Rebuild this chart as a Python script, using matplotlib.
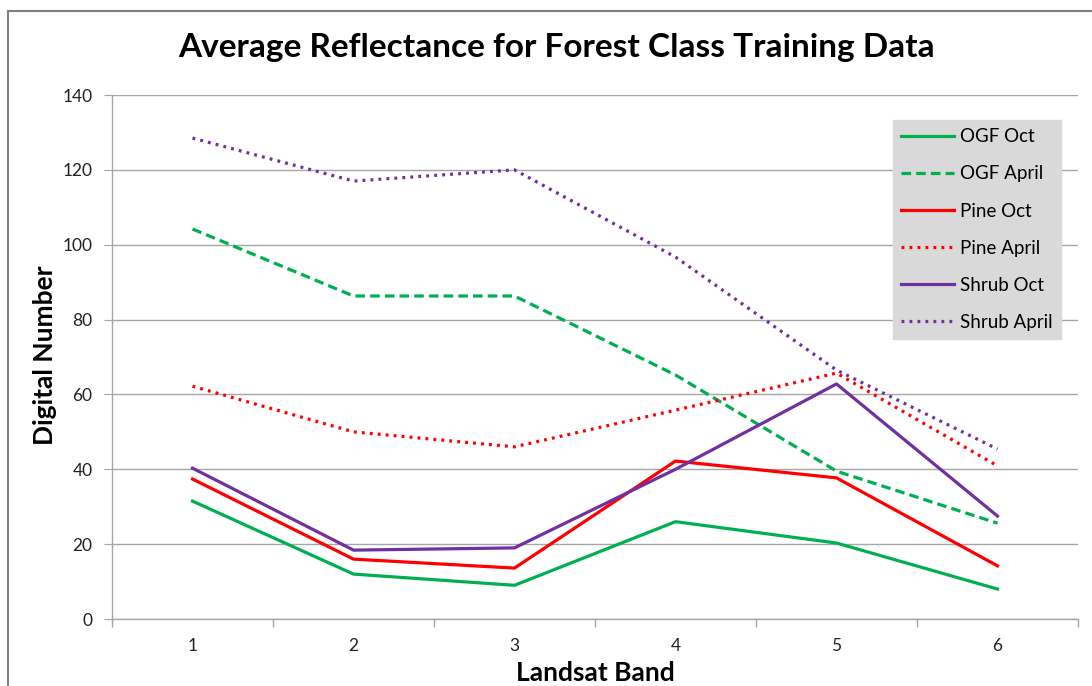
import numpy as np
import matplotlib.pyplot as plt
from matplotlib.patches import Rectangle

plt.rcParams['font.family'] = ['Lato', 'DejaVu Sans']

bands = [1, 2, 3, 4, 5, 6]
ogf_oct = [31.5, 12.0, 9.0, 26.0, 20.3, 8.0]
ogf_april = [104.2, 86.3, 86.3, 65.2, 39.5, 25.6]
pine_oct = [37.4, 16.0, 13.6, 42.2, 37.7, 14.2]
pine_april = [62.2, 50.0, 46.0, 55.8, 65.7, 40.9]
shrub_oct = [40.3, 18.4, 19.0, 40.0, 62.8, 27.5]
shrub_april = [128.5, 117.0, 120.0, 96.7, 66.5, 45.4]

green = '#00b050'
red = '#ff0000'
purple = '#7030a0'
grid_col = '#a6a6a6'

fig = plt.figure(figsize=(10.92, 6.86), dpi=100)
ax = fig.add_axes([112 / 1092, 67 / 686, 966 / 1092, 524 / 686])

# outer chart border
fig.patches.append(Rectangle((8 / 1092, -0.05), 1.1, (686 - 11) / 686 + 0.05,
                             transform=fig.transFigure, fill=False,
                             edgecolor='#808080', linewidth=1.5))

lw = 2.3
ax.plot(bands, ogf_oct, color=green, lw=lw, label='OGF Oct')
ax.plot(bands, ogf_april, color=green, lw=lw, ls=(0, (3, 1.6)), label='OGF April')
ax.plot(bands, pine_oct, color=red, lw=lw, label='Pine Oct')
ax.plot(bands, pine_april, color=red, lw=lw, ls=(0, (0.9, 1.6)), label='Pine April')
ax.plot(bands, shrub_oct, color=purple, lw=lw, label='Shrub Oct')
ax.plot(bands, shrub_april, color=purple, lw=lw, ls=(0, (0.9, 1.6)), label='Shrub April')

ax.set_xlim(0.5, 6.5)
ax.set_ylim(0, 140)
ax.set_yticks(np.arange(0, 141, 20))
ax.set_xticks(bands)
ax.set_xticks(np.arange(0.5, 6.6, 1), minor=True)
ax.tick_params(axis='x', which='major', length=0, labelsize=12.5, pad=14, colors='#222222')
ax.tick_params(axis='x', which='minor', length=6, direction='out', color=grid_col, width=1)
ax.tick_params(axis='y', length=6, direction='out', color=grid_col, labelsize=12.5, pad=8,
               colors='#222222')
ax.tick_params(axis='y', color=grid_col)
ax.yaxis.grid(True, color=grid_col, lw=1)
ax.set_axisbelow(True)
for s in ['top', 'right']:
    ax.spines[s].set_visible(False)
for s in ['left', 'bottom']:
    ax.spines[s].set_color(grid_col)
    ax.spines[s].set_linewidth(1)

ax.set_xlabel('Landsat Band', fontsize=19, fontweight='bold', va='center')
ax.xaxis.set_label_coords(0.5, (619 - 673) / 524)
ax.set_ylabel('Digital Number', fontsize=19, fontweight='bold', va='center')
ax.yaxis.set_label_coords((45 - 112) / 966, (619 - 355) / 524)
fig.text(557 / 1092, 1 - 48 / 686, 'Average Reflectance for Forest Class Training Data',
         ha='center', va='center', fontsize=24, fontweight='bold')

leg = ax.legend(loc='upper left', bbox_to_anchor=(893 / 1092, 1 - 120 / 686),
                bbox_transform=fig.transFigure, fontsize=13.5, frameon=True,
                fancybox=False, handlelength=2.8, labelspacing=1.07,
                borderpad=0.45, handletextpad=0.3, borderaxespad=0)
leg.get_frame().set_facecolor('#d9d9d9')
leg.get_frame().set_edgecolor('#d9d9d9')
leg.get_frame().set_alpha(1)

fig.savefig('out.png', dpi=100)
